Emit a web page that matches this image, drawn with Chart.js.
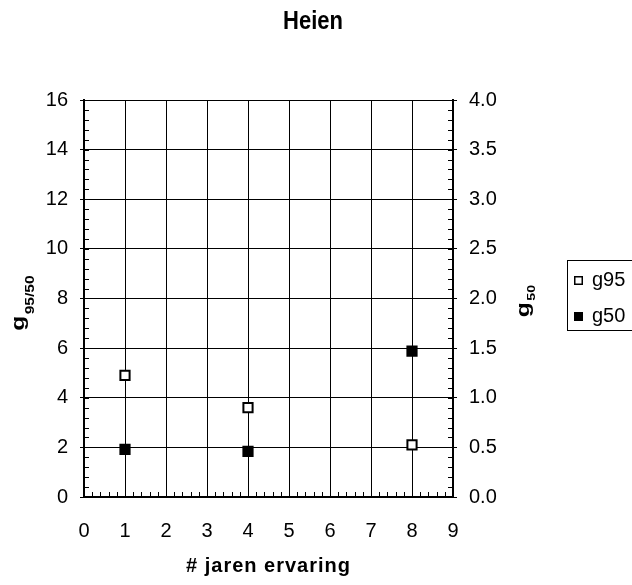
<!DOCTYPE html>
<html><head><meta charset="utf-8">
<script src="https://cdn.jsdelivr.net/npm/chart.js@4"></script>
<style>html,body{margin:0;padding:0;background:#fff}#wrap{width:632px;height:585px}</style>
</head><body><div id="wrap"><canvas id="c" width="632" height="585"></canvas></div>
<script>
const titleText = "Heien";
const xTitle = "# jaren ervaring";
const seriesNames = ["g95", "g50"];
const xValues = [1, 4, 8];
const g95 = [4.9, 3.6, 2.1];
const g50 = [0.48, 0.46, 1.47];
const xTicks = [0,1,2,3,4,5,6,7,8,9];
const leftTicks = [0,2,4,6,8,10,12,14,16];
const rightTicks = [0,0.5,1,1.5,2,2.5,3,3.5,4];

const FONT = "'Liberation Sans', Arial, sans-serif";

const decor = {
  id: 'decor',
  afterDraw(chart) {
    const ctx = chart.ctx, ca = chart.chartArea;
    ctx.save();
    ctx.strokeStyle = '#000'; ctx.lineWidth = 1;
    // minor ticks
    const minor = (scale, step, horiz, dir, len) => {
      for (let v = scale.min; v <= scale.max + 1e-9; v += step) {
        const p = Math.round(scale.getPixelForValue(v)) + 0.5;
        ctx.beginPath();
        if (horiz) { ctx.moveTo(p, ca.bottom); ctx.lineTo(p, ca.bottom - len); }
        else { const x0 = dir > 0 ? ca.left : ca.right; ctx.moveTo(x0, p); ctx.lineTo(x0 + dir*len, p); }
        ctx.stroke();
      }
    };
    minor(chart.scales.x, 0.2, true, 0, 5);
    minor(chart.scales.y, 0.4, false, 1, 5);
    minor(chart.scales.y2, 0.1, false, -1, 5);
    // title (slightly tall glyphs as in the reference)
    ctx.fillStyle = '#000';
    ctx.save();
    ctx.translate(313, 22); ctx.scale(1, 1.2);
    ctx.textAlign = 'center'; ctx.textBaseline = 'middle';
    ctx.font = "bold 22px " + FONT;
    ctx.fillText(titleText, 0, 0);
    ctx.restore();
    // x title
    ctx.textAlign = 'center'; ctx.textBaseline = 'middle';
    ctx.font = "bold 20px " + FONT;
    ctx.letterSpacing = '1px';
    ctx.fillText(xTitle, (ca.left + ca.right)/2, 566);
    ctx.letterSpacing = '0px';
    // rotated axis titles with subscripts
    const subTitle = (bx, cy, main, sub, subOff, subSize) => {
      ctx.save();
      ctx.translate(bx, cy); ctx.rotate(-Math.PI/2); ctx.scale(1.3, 1);
      ctx.textAlign = 'left'; ctx.textBaseline = 'alphabetic';
      ctx.font = "bold 19px " + FONT; const w1 = ctx.measureText(main).width;
      ctx.font = "bold " + subSize + "px " + FONT; const w2 = ctx.measureText(sub).width;
      const x0 = -(w1 + w2 + 1)/2;
      ctx.font = "bold 19px " + FONT; ctx.fillText(main, x0, 0);
      ctx.font = "bold " + subSize + "px " + FONT; ctx.fillText(sub, x0 + w1 + 1, subOff);
      ctx.restore();
    };
    subTitle(24, 303, "g", "95/50", 10, 12);
    subTitle(529, 301, "g", "50", 6, 11);
    // legend
    ctx.lineWidth = 1;
    ctx.strokeRect(567.5, 260.5, 80, 70);
    const items = chart.data.datasets;
    const ys = [280, 316];
    items.forEach((ds, i) => {
      const y = ys[i];
      ctx.fillStyle = ds.pointBackgroundColor;
      ctx.fillRect(574, y - 4, 9, 9);
      ctx.strokeStyle = '#000'; ctx.lineWidth = 1.5;
      ctx.strokeRect(574.75, y - 3.25, 7.5, 7.5);
      ctx.fillStyle = '#000';
      ctx.font = "20px " + FONT; ctx.textAlign = 'left'; ctx.textBaseline = 'middle';
      ctx.fillText(ds.label, 592, y);
    });
    ctx.restore();
  }
};

new Chart(document.getElementById('c'), {
  type: 'scatter',
  data: {
    datasets: [
      { label: seriesNames[0], data: xValues.map((x,i)=>({x, y: g95[i]})), yAxisID: 'y',
        pointStyle: 'rect', pointRadius: 6.5, pointBackgroundColor: '#ffffff', pointBorderColor: '#000', pointBorderWidth: 2, pointHoverRadius: 6.5 },
      { label: seriesNames[1], data: xValues.map((x,i)=>({x, y: g50[i]})), yAxisID: 'y2',
        pointStyle: 'rect', pointRadius: 6.5, pointBackgroundColor: '#000000', pointBorderColor: '#000', pointBorderWidth: 2, pointHoverRadius: 6.5 }
    ]
  },
  options: {
    responsive: false, animation: false,
    layout: { padding: { left: 0, right: 59, top: 100, bottom: 0 } },
    plugins: { legend: { display: false }, title: { display: false }, tooltip: { enabled: false } },
    scales: {
      x: {
        type: 'linear', min: 0, max: 9,
        afterBuildTicks: s => { s.ticks = xTicks.map(v => ({value: v})); },
        afterFit: s => { s.height = 88; },
        grid: { color: '#000', lineWidth: 1, drawTicks: false },
        border: { color: '#000', width: 2 },
        ticks: { color: '#000', font: { family: FONT, size: 20 }, padding: 22 }
      },
      y: {
        type: 'linear', position: 'left', min: 0, max: 16,
        afterBuildTicks: s => { s.ticks = leftTicks.map(v => ({value: v})); },
        afterFit: s => { s.width = 84; },
        grid: { color: '#000', lineWidth: 1, tickLength: 4 },
        border: { color: '#000', width: 2 },
        ticks: { color: '#000', font: { family: FONT, size: 20 }, padding: 12 }
      },
      y2: {
        type: 'linear', position: 'right', min: 0, max: 4,
        afterBuildTicks: s => { s.ticks = rightTicks.map(v => ({value: v})); },
        afterFit: s => { s.width = 120; },
        grid: { drawOnChartArea: false, color: '#000', lineWidth: 1, tickLength: 4 },
        border: { color: '#000', width: 2 },
        ticks: { color: '#000', font: { family: FONT, size: 20 }, padding: 12, callback: v => v.toFixed(1) }
      }
    }
  },
  plugins: [decor]
});
</script>
</body></html>
